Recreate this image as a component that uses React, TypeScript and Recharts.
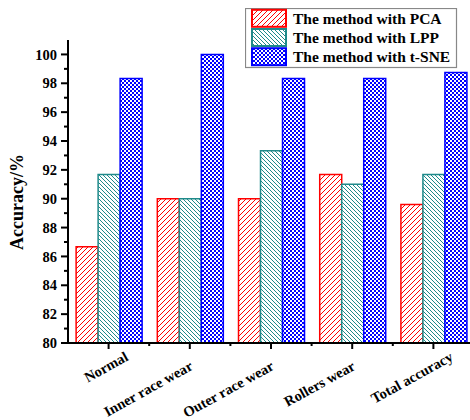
import React from 'react';
import { BarChart, Bar, XAxis, YAxis, Legend } from 'recharts';

const categories = ['Normal', 'Inner race wear', 'Outer race wear', 'Rollers wear', 'Total accuracy'];
const pcaValues = [86.67, 90, 90, 91.67, 89.6];
const lppValues = [91.67, 90, 93.33, 91, 91.67];
const tsneValues = [98.33, 100, 98.33, 98.33, 98.75];
const yTicks = [80, 81, 82, 83, 84, 85, 86, 87, 88, 89, 90, 91, 92, 93, 94, 95, 96, 97, 98, 99, 100];
const seriesNames = ['The method with PCA', 'The method with LPP', 'The method with t-SNE'];

const data = categories.map((c, i) => ({ name: c, pca: pcaValues[i], lpp: lppValues[i], tsne: tsneValues[i] }));

const FONT = '"Liberation Serif", "Times New Roman", serif';
const RED = '#FF0000';
const TEAL = '#1F8A8A';
const BLUE = '#0000FF';
const seriesColors = [RED, TEAL, BLUE];

const Patterns = ({ prefix }: { prefix: string }) => (
  <defs>
    <pattern id={`${prefix}pca`} patternUnits="userSpaceOnUse" width={5} height={5}>
      <rect x={0} y={0} width={5} height={5} fill="#fff" />
      <path d="M0,5 L5,0 M-1,1 L1,-1 M4,6 L6,4" stroke={RED} strokeWidth={1} />
    </pattern>
    <pattern id={`${prefix}lpp`} patternUnits="userSpaceOnUse" width={4} height={4}>
      <rect x={0} y={0} width={4} height={4} fill="#fff" />
      <path d="M0,0 L4,4 M-1,3 L1,5 M3,-1 L5,1" stroke={TEAL} strokeWidth={1} />
    </pattern>
    <pattern id={`${prefix}tsne`} patternUnits="userSpaceOnUse" width={4} height={4}>
      <rect x={0} y={0} width={4} height={4} fill="#fff" />
      <rect x={0} y={0} width={2} height={2} fill={BLUE} />
      <rect x={2} y={2} width={2} height={2} fill={BLUE} />
    </pattern>
  </defs>
);

const labelShift: Record<string, number> = { Normal: 19, 'Total accuracy': 19 };
const ANGLE = 29;

const XTick = (props: any) => {
  const { x, y, payload, index } = props;
  const half = payload && payload.offset ? payload.offset : 40.6;
  const shift = labelShift[payload.value] || 0;
  const rad = (ANGLE * Math.PI) / 180;
  const tx = x + 4 + shift * Math.cos(rad);
  const ty = y + 26 - shift * Math.sin(rad);
  return (
    <g>
      <line x1={x} x2={x} y1={y} y2={y + 6} stroke="#000" strokeWidth={2} />
      {index > 0 && <line x1={x - half} x2={x - half} y1={y} y2={y + 3} stroke="#000" strokeWidth={2} />}
      <text
        x={tx}
        y={ty}
        transform={`rotate(-${ANGLE} ${tx} ${ty})`}
        textAnchor="end"
        fontFamily={FONT}
        fontWeight="bold"
        fontSize={14.5}
        fill="#000"
      >
        {payload.value}
      </text>
    </g>
  );
};

const YTick = (props: any) => {
  const { x, y, payload } = props;
  const major = payload.value % 2 === 0;
  return (
    <g>
      <line x1={x} x2={x - (major ? 7 : 4)} y1={y} y2={y} stroke="#000" strokeWidth={2} />
      {major && (
        <text x={x - 11} y={y} dy="0.35em" textAnchor="end" fontFamily={FONT} fontWeight="bold" fontSize={14.5} fill="#000">
          {payload.value}
        </text>
      )}
    </g>
  );
};

const YLabel = () => (
  <text
    x={17}
    y={202}
    transform="rotate(-90 17 202)"
    textAnchor="middle"
    dominantBaseline="central"
    fontFamily={FONT}
    fontWeight="bold"
    fontSize={18}
    fill="#000"
  >
    Accuracy/%
  </text>
);

const LegendContent = () => {
  const ids = ['lgpca', 'lglpp', 'lgtsne'];
  return (
    <svg width={213} height={62} style={{ display: 'block' }}>
      <Patterns prefix="lg" />
      <rect x={0.5} y={0.5} width={211} height={59} fill="#fff" stroke="#888" strokeWidth={1.2} />
      {seriesNames.map((n, i) => (
        <g key={n}>
          <rect x={7} y={1.8 + 19.2 * i} width={34} height={17} fill={`url(#${ids[i]})`} stroke={seriesColors[i]} strokeWidth={2} />
          <text x={48} y={15.5 + 19.2 * i} fontFamily={FONT} fontWeight="bold" fontSize={15.5} fill="#000">
            {n}
          </text>
        </g>
      ))}
    </svg>
  );
};

export default function App() {
  return (
    <div style={{ position: 'absolute', left: 0, top: 0, width: 470, height: 420, overflow: 'hidden', background: '#fff' }}>
      <BarChart
        width={474}
        height={420}
        data={data}
        margin={{ top: 40, right: 0, bottom: 0, left: 0 }}
        barCategoryGap="10%"
        barGap={0}
      >
        <Patterns prefix="" />
        <XAxis
          dataKey="name"
          height={77}
          interval={0}
          tickSize={0}
          tickMargin={0}
          tickLine={false}
          axisLine={{ stroke: '#000', strokeWidth: 2 }}
          tick={<XTick />}
        />
        <YAxis
          width={68}
          domain={[80, 101]}
          ticks={yTicks}
          interval={0}
          allowDataOverflow
          tickSize={0}
          tickMargin={0}
          tickLine={false}
          axisLine={{ stroke: '#000', strokeWidth: 2 }}
          tick={<YTick />}
          label={<YLabel />}
        />
        <Legend
          verticalAlign="middle"
          align="center"
          layout="vertical"
          content={<LegendContent />}
          wrapperStyle={{ position: 'absolute', left: 245, top: 8, width: 213, height: 62 }}
        />
        <Bar dataKey="pca" name={seriesNames[0]} fill="url(#pca)" stroke={RED} strokeWidth={1.5} isAnimationActive={false} />
        <Bar dataKey="lpp" name={seriesNames[1]} fill="url(#lpp)" stroke={TEAL} strokeWidth={1.5} isAnimationActive={false} />
        <Bar dataKey="tsne" name={seriesNames[2]} fill="url(#tsne)" stroke={BLUE} strokeWidth={1.5} isAnimationActive={false} />
      </BarChart>
    </div>
  );
}
